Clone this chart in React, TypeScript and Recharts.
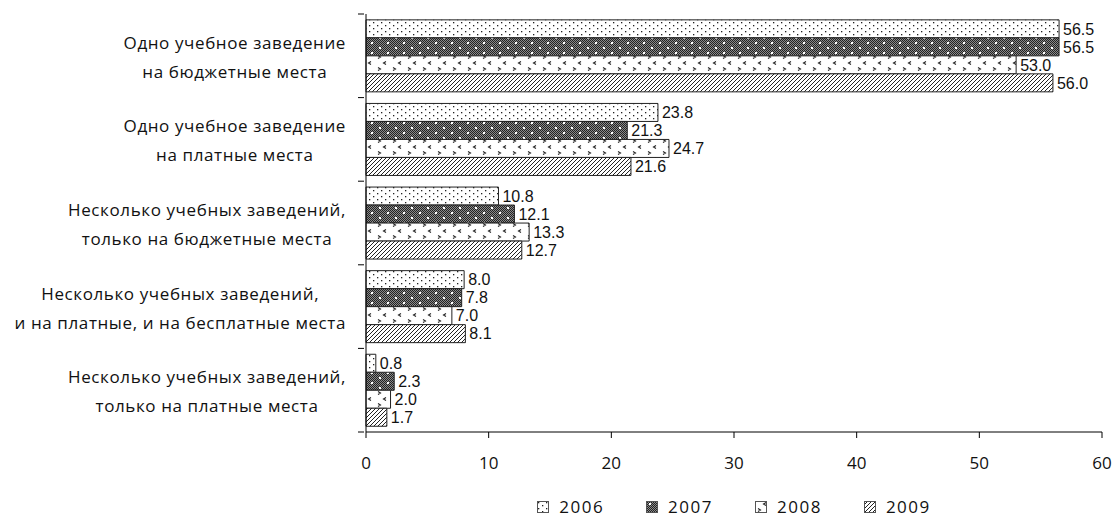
import { BarChart, Bar, XAxis, YAxis, LabelList, Legend } from "recharts";

const categories = [
  "Одно учебное заведение\nна бюджетные места",
  "Одно учебное заведение\nна платные места",
  "Несколько учебных заведений,\nтолько на бюджетные места",
  "Несколько учебных заведений,\nи на платные, и на бесплатные места",
  "Несколько учебных заведений,\nтолько на платные места",
];
const years = ["2006", "2007", "2008", "2009"];
const values2006 = [56.5, 23.8, 10.8, 8.0, 0.8];
const values2007 = [56.5, 21.3, 12.1, 7.8, 2.3];
const values2008 = [53.0, 24.7, 13.3, 7.0, 2.0];
const values2009 = [56.0, 21.6, 12.7, 8.1, 1.7];
const xTicks = [0, 10, 20, 30, 40, 50, 60];

const seriesValues = [values2006, values2007, values2008, values2009];

const data = categories.map((name, i) => {
  const row: Record<string, string | number> = { name };
  years.forEach((y, k) => {
    row["y" + y] = seriesValues[k][i];
  });
  return row;
});

const LABEL_FONT = "Open Sans";
const LABEL_SIZE = 17;
const LABEL_SPACING = 0.6;

let ctx: CanvasRenderingContext2D | null = null;
function measure(text: string) {
  if (!ctx) ctx = document.createElement("canvas").getContext("2d");
  if (!ctx) return text.length * 9;
  ctx.font = `${LABEL_SIZE}px "${LABEL_FONT}"`;
  (ctx as any).letterSpacing = `${LABEL_SPACING}px`;
  return ctx.measureText(text).width;
}

const W = 1113;
const H = 518;
const X_AXIS_H = 46;
const LEGEND_H = 22;
const M = { top: 14, right: 11, bottom: 18, left: 0 };
const plotH = H - M.top - M.bottom - X_AXIS_H - LEGEND_H;
const band = plotH / categories.length;

function CategoryTick(props: any) {
  const { x, y, payload, index } = props;
  const lines: string[] = String(payload.value).split("\n");
  const maxW = Math.max(...lines.map(measure));
  const cx = x - 12 - maxW / 2;
  const axisX = x + 6;
  return (
    <g>
      <line x1={axisX - 6} x2={axisX} y1={y - band / 2} y2={y - band / 2} stroke="#000" />
      {index === categories.length - 1 && (
        <line x1={axisX - 6} x2={axisX} y1={y + band / 2} y2={y + band / 2} stroke="#000" />
      )}
      {lines.map((l, i) => (
        <text
          key={i}
          x={cx}
          y={y + 1 + (i - (lines.length - 1) / 2) * 29}
          textAnchor="middle"
          dominantBaseline="central"
          fontFamily={LABEL_FONT}
          fontSize={LABEL_SIZE}
          letterSpacing={LABEL_SPACING}
          fill="#111"
        >
          {l}
        </text>
      ))}
    </g>
  );
}

const patternIds = ["p2006", "p2007", "p2008", "p2009"];

function Patterns() {
  return (
    <svg width={0} height={0} style={{ position: "absolute" }}>
      <defs>
        <pattern id="p2006" width={8} height={6} patternUnits="userSpaceOnUse">
          <rect width={8} height={6} fill="#fff" />
          <rect x={1} y={1} width={1.3} height={1.3} fill="#222" />
          <rect x={5} y={4} width={1.3} height={1.3} fill="#222" />
        </pattern>
        <pattern id="checker" width={2} height={2} patternUnits="userSpaceOnUse">
          <rect width={2} height={2} fill="#8a8a8a" />
          <rect width={1} height={1} fill="#222" />
          <rect x={1} y={1} width={1} height={1} fill="#222" />
        </pattern>
        <pattern id="p2007" width={16} height={10} patternUnits="userSpaceOnUse">
          <rect width={16} height={10} fill="url(#checker)" />
          <rect x={3} y={2} width={2} height={2} fill="#fff" />
          <rect x={11} y={7} width={2} height={2} fill="#fff" />
        </pattern>
        <pattern id="p2008" width={15} height={12} patternUnits="userSpaceOnUse">
          <rect width={15} height={12} fill="#fff" />
          <path d="M11 1.5 L8.5 3 L11 4.5" fill="none" stroke="#222" strokeWidth={1.1} />
          <path d="M3 7.5 L5.5 9 L3 10.5" fill="none" stroke="#222" strokeWidth={1.1} />
        </pattern>
        <pattern id="p2009" width={4} height={4} patternUnits="userSpaceOnUse">
          <rect width={4} height={4} fill="#fff" />
          <path d="M-1 1 L1 -1 M0 4 L4 0 M3 5 L5 3" stroke="#222" strokeWidth={1} />
        </pattern>
      </defs>
    </svg>
  );
}

function LegendContent() {
  return (
    <div style={{ display: "flex", justifyContent: "center", alignItems: "center", gap: 42, height: 22 }}>
      {years.map((y, k) => (
        <div key={y} style={{ display: "flex", alignItems: "center" }}>
          <svg width={12} height={12} style={{ marginRight: 10 }}>
            <rect x={0.5} y={0.5} width={11} height={11} fill={`url(#${patternIds[k]})`} stroke="#555" />
          </svg>
          <span style={{ fontFamily: LABEL_FONT, fontSize: LABEL_SIZE, letterSpacing: 1.5, color: "#111", lineHeight: "22px" }}>
            {y}
          </span>
        </div>
      ))}
    </div>
  );
}

export default function App() {
  return (
    <div style={{ position: "absolute", left: 0, top: 0, width: W, height: H, background: "#fff" }}>
      <Patterns />
      <BarChart
        width={W}
        height={H}
        data={data}
        layout="vertical"
        margin={M}
        barCategoryGap="7%"
        barGap={0}
      >
        <XAxis
          type="number"
          domain={[0, 60]}
          ticks={xTicks}
          height={X_AXIS_H}
          axisLine={{ stroke: "#000" }}
          tickLine={{ stroke: "#000" }}
          tickSize={6}
          tickMargin={19}
          tick={{ fontFamily: LABEL_FONT, fontSize: LABEL_SIZE, fill: "#111" }}
          interval={0}
        />
        <YAxis
          type="category"
          dataKey="name"
          width={366}
          axisLine={{ stroke: "#000" }}
          tickLine={false}
          tick={<CategoryTick />}
          interval={0}
        />
        <Legend
          verticalAlign="bottom"
          height={LEGEND_H}
          wrapperStyle={{ left: 366, width: 736, top: 496, height: LEGEND_H }}
          content={() => <LegendContent />}
        />
        {years.map((y, k) => (
          <Bar
            key={y}
            dataKey={"y" + y}
            fill={`url(#${patternIds[k]})`}
            stroke="#222"
            strokeWidth={1}
            isAnimationActive={false}
          >
            <LabelList
              dataKey={"y" + y}
              position="right"
              offset={4}
              formatter={(v: any) => Number(v).toFixed(1)}
              style={{ fontFamily: "'Liberation Sans Narrow', 'Liberation Sans'", fontSize: 16, fill: "#111" }}
            />
          </Bar>
        ))}
      </BarChart>
    </div>
  );
}
